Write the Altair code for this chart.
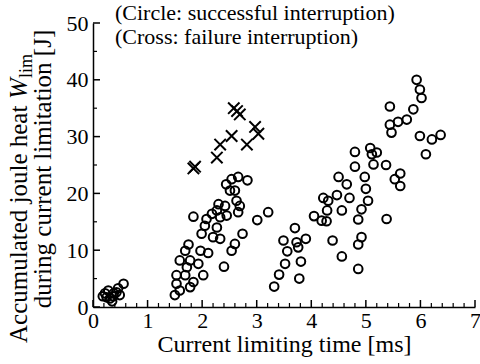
import altair as alt
import pandas as pd

# ---------------- data ----------------
circle_t = [0.22, 0.28, 0.56, 0.43, 0.31, 0.49, 0.37, 0.25, 0.18, 0.46, 0.35, 0.38,
            2.83, 2.66, 2.54, 2.44, 2.51, 2.60, 2.63, 2.69, 2.30, 2.42, 2.27, 2.45, 2.66, 2.18, 2.33, 1.84,
            2.08, 2.05, 2.27, 2.20, 2.33, 1.99, 3.01, 3.21, 2.74, 2.60, 2.54, 2.11, 1.97, 1.75, 1.69, 1.59,
            1.78, 1.93, 1.72, 1.53, 1.69, 2.02, 1.84, 1.53, 1.59, 1.50, 1.78, 2.40,
            3.32, 3.41, 3.52, 3.49,
            5.44, 5.44, 5.47, 5.08, 5.20, 5.11, 5.14, 4.80, 4.80, 5.37, 4.50, 4.65, 4.98, 5.00, 5.04, 4.92,
            4.86, 5.38, 4.47, 4.22, 4.31, 4.70, 4.29, 4.56, 4.05, 4.19, 4.28, 3.70, 3.90, 3.73, 3.76, 3.56,
            3.81, 3.78, 4.39, 4.56, 4.92, 4.86, 4.86, 5.93, 5.99, 6.02, 5.87, 5.75, 5.59, 5.99, 6.21, 6.37,
            6.10, 5.63, 5.53, 5.63]
circle_w = [2.4, 2.9, 4.1, 2.6, 1.5, 2.1, 1.9, 1.7, 1.9, 3.3, 1.0, 2.4,
            22.3, 22.9, 22.5, 21.6, 20.5, 20.5, 18.7, 17.8, 18.1, 17.8, 17.0, 16.1, 16.7, 16.4, 15.8, 15.9,
            15.5, 14.3, 14.0, 12.3, 12.0, 12.9, 15.3, 16.7, 12.9, 11.1, 9.9, 9.5, 9.9, 11.0, 9.9, 8.2,
            8.2, 7.6, 7.0, 5.6, 5.6, 5.6, 4.4, 4.1, 2.9, 2.1, 3.5, 7.1,
            3.6, 5.7, 7.6, 11.7,
            35.3, 32.1, 30.7, 28.0, 27.2, 26.9, 25.1, 27.3, 24.7, 25.0, 22.9, 21.6, 22.9, 20.8, 18.7, 17.2,
            15.4, 15.5, 19.7, 19.2, 18.7, 19.2, 17.0, 17.0, 16.0, 15.2, 15.1, 13.9, 12.0, 11.4, 10.5, 9.8,
            8.0, 5.0, 11.7, 8.9, 12.3, 11.0, 6.7, 40.0, 38.3, 36.8, 34.8, 33.0, 32.6, 30.1, 29.5, 30.3,
            26.9, 23.5, 22.5, 21.3]
cross_t = [1.87, 1.84, 2.58, 2.64, 2.69, 2.97, 3.03, 2.54, 2.33, 2.82, 2.27]
cross_w = [24.7, 24.4, 35.0, 34.5, 33.9, 31.7, 30.5, 30.1, 28.6, 28.6, 26.3]

x_major = [0, 1, 2, 3, 4, 5, 6, 7]
x_minor = [0.2, 0.4, 0.6, 0.8, 1.2, 1.4, 1.6, 1.8, 2.2, 2.4, 2.6, 2.8, 3.2, 3.4, 3.6, 3.8,
           4.2, 4.4, 4.6, 4.8, 5.2, 5.4, 5.6, 5.8, 6.2, 6.4, 6.6, 6.8]
y_major = [0, 10, 20, 30, 40, 50]
y_minor = [5, 15, 25, 35, 45]

x_title = "Current limiting time [ms]"
y_title_1 = "Accumulated joule heat "
y_title_w = "W"
y_title_sub = "lim"
y_title_2 = "during current limitation [J]"
note_1 = "(Circle: successful interruption)"
note_2 = "(Cross: failure interruption)"

# ---------------- layout ----------------
W, H = 382, 284
FONT = "Liberation Serif"

xs = alt.Scale(domain=[0, 7], nice=False, zero=False)
ys = alt.Scale(domain=[0, 50], nice=False, zero=False)

x_axis = alt.Axis(values=x_major, ticks=False, grid=False, format="d",
                  labelFont=FONT, labelFontSize=22, labelColor="black", labelPadding=3,
                  labelOverlap=False, labelFlush=False,
                  domainColor="black", domainWidth=1.5,
                  title=x_title, titleFont=FONT, titleFontSize=24, titleFontWeight="normal",
                  titleColor="black", titlePadding=1)
y_axis = alt.Axis(values=y_major, ticks=False, grid=False, format="d",
                  labelFont=FONT, labelFontSize=22, labelColor="black", labelPadding=5,
                  labelOverlap=False, labelFlush=False,
                  domainColor="black", domainWidth=1.5, title="")


def X():
    return alt.X("t:Q", scale=xs, axis=x_axis)


def Y():
    return alt.Y("w:Q", scale=ys, axis=y_axis)


circ_df = pd.DataFrame({"t": circle_t, "w": circle_w})
cross_df = pd.DataFrame({"t": cross_t, "w": cross_w})

circles = alt.Chart(circ_df).mark_point(
    shape="circle", filled=False, color="black", strokeWidth=2, size=75, opacity=1
).encode(x=X(), y=Y())

crosses = alt.Chart(cross_df).mark_point(
    shape="M-1,-1L1,1M1,-1L-1,1", filled=False, color="black", strokeWidth=2, size=130, opacity=1
).encode(x=X(), y=Y())

xt_major = alt.Chart(pd.DataFrame({"t": x_major})).mark_rule(color="black", strokeWidth=1.5).encode(
    x=X(), y=alt.value(H), y2=alt.value(H - 7))
xt_minor = alt.Chart(pd.DataFrame({"t": x_minor})).mark_rule(color="black", strokeWidth=1.2).encode(
    x=X(), y=alt.value(H), y2=alt.value(H - 4))
yt_major = alt.Chart(pd.DataFrame({"w": y_major})).mark_rule(color="black", strokeWidth=1.5).encode(
    y=Y(), x=alt.value(0), x2=alt.value(7))
yt_minor = alt.Chart(pd.DataFrame({"w": y_minor})).mark_rule(color="black", strokeWidth=1.2).encode(
    y=Y(), x=alt.value(0), x2=alt.value(4))


def txt(s, x, y, size, style="normal", align="left", angle=0, baseline="alphabetic"):
    return alt.Chart(pd.DataFrame({"s": [s]})).mark_text(
        font=FONT, fontSize=size, fontStyle=style, align=align, baseline=baseline,
        angle=angle, color="black"
    ).encode(text="s:N", x=alt.value(x), y=alt.value(y))


# y title (rotated, two lines; W italic with subscript "lim")
Y1X = -66
Y1_START = 320
FS = 25
yt1 = txt(y_title_1, Y1X, Y1_START, FS, angle=270)
ytw = txt(y_title_w, Y1X, Y1_START - 244, FS, style="italic", angle=270)
yts = txt(y_title_sub, Y1X + 5, Y1_START - 265, 18, angle=270)
yt2 = txt(y_title_2, -42, 146, FS, align="center", angle=270)

n1 = txt(note_1, 22, -3, 22)
n2 = txt(note_2, 22, 21, 22)

chart = alt.layer(
    xt_minor, xt_major, yt_minor, yt_major, circles, crosses, yt1, ytw, yts, yt2, n1, n2
).properties(
    width=W, height=H,
    autosize=alt.AutoSizeParams(type="none"),
    padding={"left": 93, "top": 23, "right": 5, "bottom": 57},
    background="white",
).configure(font=FONT).configure_axis(labelFont=FONT, titleFont=FONT).configure_view(stroke=None)

chart.save("out.html", embed_options={"renderer": "svg", "actions": False})
